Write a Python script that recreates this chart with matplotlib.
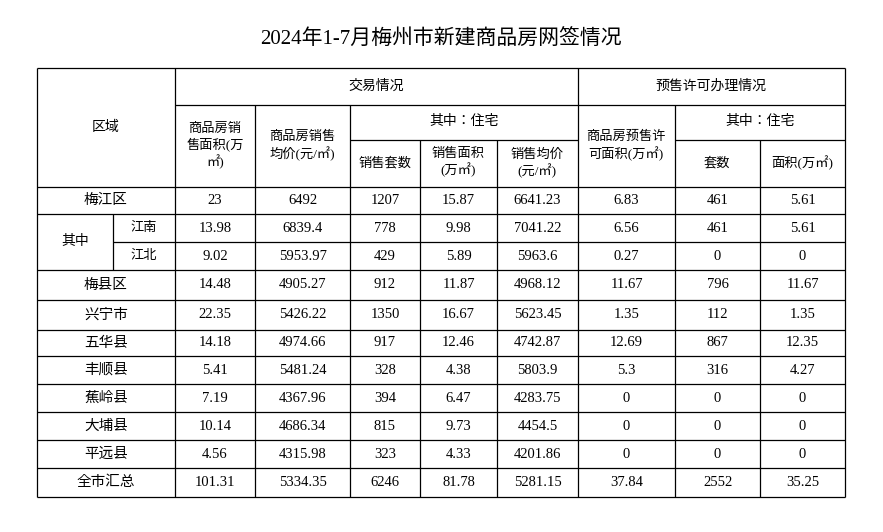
import matplotlib
matplotlib.use("Agg")
import matplotlib.pyplot as plt

title = "2024年1-7月梅州市新建商品房网签情况"
regions = ["梅江区", "江南", "江北", "梅县区", "兴宁市", "五华县", "丰顺县", "蕉岭县", "大埔县", "平远县", "全市汇总"]
sale_area = ["23", "13.98", "9.02", "14.48", "22.35", "14.18", "5.41", "7.19", "10.14", "4.56", "101.31"]
sale_price = ["6492", "6839.4", "5953.97", "4905.27", "5426.22", "4974.66", "5481.24", "4367.96", "4686.34", "4315.98", "5334.35"]
res_units = ["1207", "778", "429", "912", "1350", "917", "328", "394", "815", "323", "6246"]
res_area = ["15.87", "9.98", "5.89", "11.87", "16.67", "12.46", "4.38", "6.47", "9.73", "4.33", "81.78"]
res_price = ["6641.23", "7041.22", "5963.6", "4968.12", "5623.45", "4742.87", "5803.9", "4283.75", "4454.5", "4201.86", "5281.15"]
presale_area = ["6.83", "6.56", "0.27", "11.67", "1.35", "12.69", "5.3", "0", "0", "0", "37.84"]
presale_units = ["461", "461", "0", "796", "112", "867", "316", "0", "0", "0", "2552"]
presale_res_area = ["5.61", "5.61", "0", "11.67", "1.35", "12.35", "4.27", "0", "0", "0", "35.25"]

CJK = ["Liberation Serif", "Noto Sans CJK SC", "Noto Sans CJK JP", "DejaVu Sans"]
NUM = ["Liberation Serif"]

fig = plt.figure(figsize=(8.83, 5.32), dpi=100)
ax = fig.add_axes([0, 0, 1, 1])
ax.set_xlim(0, 883); ax.set_ylim(532, 0); ax.axis("off")

xs = [37, 175, 255, 350, 420, 497, 578, 675, 760, 845]
ys = [187, 214, 242, 270, 300, 330, 356, 384, 412, 440, 468, 497]
lw = 0.9
def line(x0, y0, x1, y1):
    ax.plot([x0, x1], [y0, y1], color="black", lw=lw, solid_capstyle="butt")
def txt(x, y, s, size=10, font=CJK):
    ax.text(x, y, s, ha="center", va="center", fontsize=size, family=font, linespacing=1.25)

ax.text(441, 40, title, ha="center", va="center", fontsize=15, family=CJK)

line(37, 68, 845, 68); line(37, 497, 845, 497)
line(37, 68, 37, 497); line(845, 68, 845, 497)
line(175, 105, 845, 105)
line(350, 140, 578, 140); line(675, 140, 845, 140)
line(37, 187, 845, 187)
for x in [175, 578]:
    line(x, 68, x, 497)
for x in [255, 350, 675]:
    line(x, 105, x, 497)
for x in [420, 497, 760]:
    line(x, 140, x, 497)
for i, y in enumerate(ys[1:-1]):
    x0 = 113 if i == 1 else 37
    line(x0, y, 845, y)
line(113, 214, 113, 270)

txt(106, 127, "区域")
txt(376, 86, "交易情况")
txt(711, 86, "预售许可办理情况")
txt(215, 146, "商品房销\n售面积(万\n㎡)", 9.5)
txt(302, 146, "商品房销售\n均价(元/㎡)", 9.5)
txt(464, 122, "其中：住宅")
txt(385, 163, "销售套数", 9.5)
txt(458, 163, "销售面积\n(万㎡)", 9.5)
txt(537, 163, "销售均价\n(元/㎡)", 9.5)
txt(626, 146, "商品房预售许\n可面积(万㎡)", 9.5)
txt(760, 122, "其中：住宅")
txt(717, 163, "套数", 9.5)
txt(802, 163, "面积(万㎡)", 9.5)

txt(75, 242, "其中")
cols = [sale_area, sale_price, res_units, res_area, res_price, presale_area, presale_units, presale_res_area]
for i, name in enumerate(regions):
    yc = (ys[i] + ys[i + 1]) / 2
    if name in ("江南", "江北"):
        txt(144, yc, name, 9.5)
    else:
        txt(106, yc, name, 10.5)
    for j, col in enumerate(cols):
        txt((xs[j + 1] + xs[j + 2]) / 2, yc, col[i], 10.5, NUM)

fig.savefig("out.png", dpi=100)
